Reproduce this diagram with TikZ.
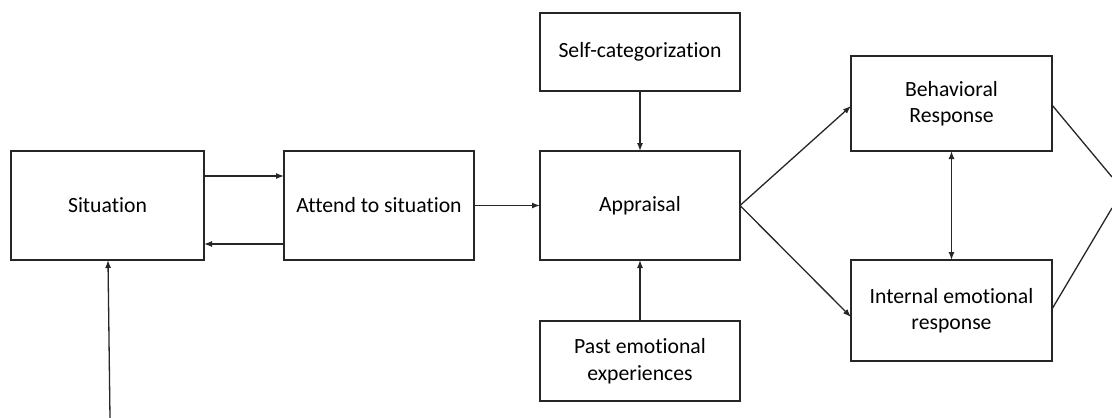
\documentclass[tikz,border=0pt]{standalone}
\usepackage{fontspec}
\setmainfont[Ligatures=NoCommon,RawFeature={-liga;-clig;-dlig}]{Carlito}
\usetikzlibrary{arrows.meta}
\begin{document}
\begin{tikzpicture}[x=1pt,y=-1pt,
  box/.style={draw=black!85, line width=1.4pt, inner sep=0pt, outer sep=0pt, align=center,
    font=\fontsize{21.7}{26.5}\selectfont},
  arr/.style={draw=black!85, line width=1.3pt, -{Latex[length=8pt,width=6pt]}},
  darr/.style={draw=black!85, line width=1.3pt, {Latex[length=8pt,width=6pt]}-{Latex[length=8pt,width=6pt]}},
  ln/.style={draw=black!85, line width=1.3pt}]
\useasboundingbox (0,0) rectangle (1112,418);
\node[box, minimum width=193pt, minimum height=109pt] (sit) at (107.5,205.5) {Situation};
\node[box, minimum width=190pt, minimum height=109pt] (att) at (379,205.5) {Attend to situation};
\node[box, minimum width=200pt, minimum height=109pt] (app) at (640,205.5) {Appraisal};
\node[box, minimum width=200pt, minimum height=78pt] (self) at (640,52) {Self-categorization};
\node[box, minimum width=200pt, minimum height=80pt] (past) at (640,361) {Past emotional\\experiences};
\node[box, minimum width=201pt, minimum height=95pt] (beh) at (951.5,103.5) {Behavioral\\Response};
\node[box, minimum width=201pt, minimum height=101pt] (int) at (951.5,310.5) {Internal emotional\\response};
\coordinate (src) at (110,418);
\coordinate (r1) at (1112,177);
\coordinate (r2) at (1112,208);
\draw[arr] ([yshift=29.5pt]sit.east) -- ([yshift=29.5pt]att.west);
\draw[arr] ([yshift=-38.5pt]att.west) -- ([yshift=-38.5pt]sit.east);
\draw[arr] (att.east) -- (app.west);
\draw[arr] (self.south) -- (app.north);
\draw[arr] (past.north) -- (app.south);
\draw[arr] (app.east) -- ([yshift=-2.5pt]beh.west);
\draw[arr] (app.east) -- ([yshift=-6.5pt]int.west);
\draw[darr] (beh.south) -- (int.north);
\draw[ln] ([yshift=-1.5pt]beh.east) -- (r1);
\draw[ln] ([yshift=1.5pt]int.east) -- (r2);
\draw[arr] (src) -- ([xshift=0.5pt]sit.south);
\end{tikzpicture}
\end{document}
